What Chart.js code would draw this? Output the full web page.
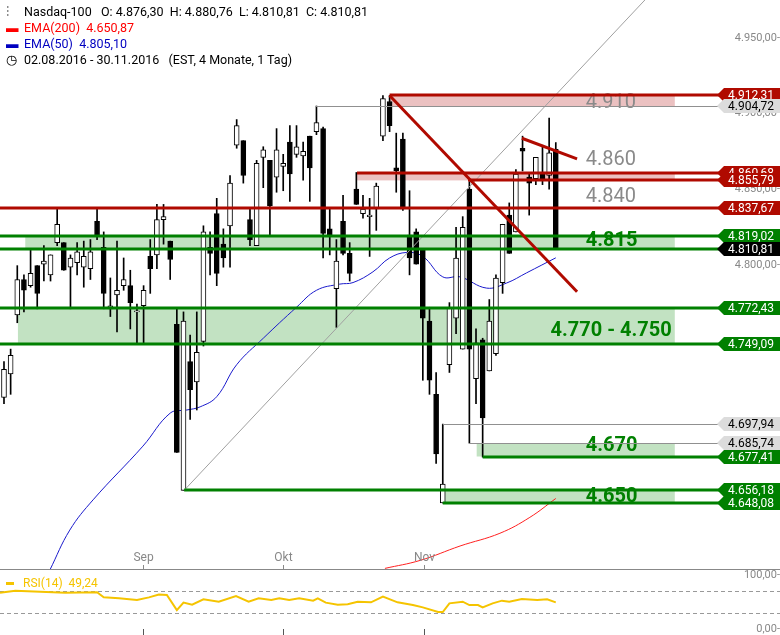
<!DOCTYPE html>
<html><head><meta charset="utf-8">
<script src="https://cdn.jsdelivr.net/npm/chart.js@4/dist/chart.umd.min.js"></script>
<style>
body{margin:0;background:#fff;width:780px;height:635px;overflow:hidden;position:relative;font-family:Roboto,"Liberation Sans",sans-serif}
#c1{position:absolute;left:0;top:0}
#c2{position:absolute;left:0;top:570px}
#hdr{position:absolute;left:6px;top:4px;font-size:12.5px;line-height:16px;pointer-events:none}
#hdr div{white-space:pre}
.ic{display:inline-block;width:12px;margin-right:6px}
</style></head><body>
<canvas id="c1" width="780" height="570"></canvas>
<canvas id="c2" width="780" height="65"></canvas>
<div id="hdr">
<div style="color:#000"><span class="ic">⫶</span>Nasdaq-100   O: 4.876,30  H: 4.880,76  L: 4.810,81  C: 4.810,81</div>
<div style="color:#f00"><span class="ic" style="font-weight:bold">▬</span>EMA(200)  4.650,87</div>
<div style="color:#0000c0"><span class="ic" style="font-weight:bold">▬</span>EMA(50)  4.805,10</div>
<div style="color:#000"><span class="ic">◷</span>02.08.2016 - 30.11.2016   (EST, 4 Monate, 1 Tag)</div>
</div>
<script>
const OPEN=[4715,4730,4768,4791,4787,4800,4801,4794,4815,4815,4799,4802,4799,4798,4829,4812,4772,4781,4787,4787,4770,4774,4806,4807,4830,4816,4762,4656,4738,4725,
4751,4812,4834,4814,4826,4879,4882,4830,4813,4871,4869,4858,4865,4881,4873,4872,4885,4888,4890,4824,4785,4829,4808,4850,4834,4832,4837,4885,
4908,4864,4883,4820,4822,4810,4764,4717,4648,4736,4766,4746,4850,4727,4752,4732,4743,4789,4833,4822,4877,4858,4857,4860,4859,4876.30];
const CLOSE=[4733,4742,4791,4784,4795,4782,4803,4807,4827,4797,4805,4809,4806,4809,4819,4782,4774,4784,4791,4776,4770,4784,4798,4830,4832,4804,4680,4764,4720,4744,
4822,4808,4795,4805,4854,4892,4859,4817,4867,4876,4839,4876,4867,4860,4878,4875,4864,4894,4821,4820,4803,4808,4795,4840,4837,4833,4852,4910,
4892,4862,4837,4805,4801,4766,4726,4679,4660,4773,4805,4825,4746,4750,4702,4764,4792,4827,4808,4860,4875,4854,4871,4857,4874,4810.81];
const HIGH=[4738,4746,4800,4794,4811,4800,4813,4807,4838,4815,4807,4815,4816,4817,4838,4822,4792,4816,4805,4797,4775,4787,4817,4840,4840,4816,4773,4770,4755,4770,
4826,4822,4844,4824,4859,4896,4882,4837,4869,4878,4869,4890,4873,4892,4892,4881,4885,4905,4891,4838,4817,4846,4815,4861,4846,4844,4854,4912,
4912,4887,4887,4849,4824,4811,4773,4731,4698,4776,4825,4832,4855,4759,4753,4778,4794,4827,4841,4863,4885,4860,4871,4879,4897,4880.76];
const LOW=[4711,4717,4763,4770,4786,4772,4790,4790,4813,4797,4772,4794,4786,4791,4817,4772,4767,4757,4784,4759,4750,4749,4782,4798,4814,4791,4680,4656,4701,4707,
4748,4794,4787,4799,4799,4877,4854,4813,4813,4851,4820,4848,4849,4842,4871,4856,4842,4886,4805,4807,4760,4807,4790,4840,4831,4806,4823,4882,
4888,4848,4836,4794,4801,4726,4717,4673,4648,4731,4756,4746,4686,4711,4677,4732,4742,4782,4808,4822,4862,4833,4853,4853,4850,4810.81];
const EMA50_X=[6.9,9.9,13.4,20.9,25,27.5,29.5,32,35,39,44,47,50.5,52.5,55.5,58,60.6,63,66,68.6,72.6,75.6,78.6,83];
const EMA50_Y=[4606,4631,4650,4684,4705,4707,4709,4715.5,4736,4753,4773,4784,4788,4789,4796,4805,4808.6,4806,4792.7,4792.7,4785.4,4788.7,4795.3,4805.1];
const EMA200_X=[57.3,62.6,68.6,74.6,79.1,83];
const EMA200_Y=[4607,4612,4621,4629,4639,4650.87];
const RSI_X=[-0.6,1.7,9.2,14,15,17.3,20,21.8,23.3,24.5,26,27,28.3,30,32.3,34.9,36.8,38.3,40.2,41.4,42.9,44.4,46.5,47.2,48.4,50.2,51.7,53.2,55.2,57,59.2,61.5,63,65.3,66,67,69,70,71.3,72,73.5,74.9,76,77.9,80.2,81.7,83];
const RSI_Y=[67,71,67,68,58.6,56.8,53.7,58.6,64,63,35,48.8,45,55,50.6,61,50.6,56.8,53.7,56.8,53.7,56.8,52.5,56.8,48.8,45,46,50.6,49.4,60,49.4,44.4,40,31.5,31.5,47.5,50.6,44.4,44.4,40,47.5,52.5,50.6,55.5,53.7,55,49.24];
const MONTH_IDX=[20.9,42,63.2];
const MONTH_LABELS=["Sep","Okt","Nov"];
const Y_TICKS=[4800,4850,4900,4950];
const RSI_TICKS=[0,100];
const LEVELS=[4912.31,4904.72,4860.68,4855.79,4837.67,4819.02,4810.81,4772.43,4749.09,4697.94,4685.74,4677.41,4656.18,4648.08];
const LEVEL_KIND=["red","gray","red","red","red","green","black","green","green","gray","gray","green","green","green"];
const LEVEL_START=[58,46.9,53.1,69.8,-0.6,-0.6,-0.6,-0.6,-0.6,66,69.9,72,27.1,66];
const ZONE_TOP=[4912.31,4860.68,4819.02,4772.43,4685.74,4656.18];
const ZONE_BOT=[4904.72,4855.79,4810.81,4749.09,4677.41,4648.08];
const ZONE_KIND=["red","red","green","green","green","green"];
const ZONE_START=[58,53.1,3.2,2.1,71.1,66];
const ZONE_END=100.9;
const TREND_A={x:[58,86.2],y:[4912,4783]};
const TREND_B={x:[77.9,86.2],y:[4883.6,4870]};
const TREND_C={x:[27.1,96.4],y:[4656,4976]};
const TEXTS=["4.910","4.860","4.840","4.815","4.770 - 4.750","4.670","4.650"];
const TEXT_VAL=[4907,4869,4845,4816,4757.8,4684,4652];
const TEXT_IDX=[87.5,87.5,87.5,87.5,82.2,87.5,87.5];
const TEXT_GREEN=[false,false,false,true,true,true,true];

const XMIN=-0.6, XMAX=107.7;
const DARKRED='#b00a00', GREEN='#008000';
function fmt(v){const s=v.toFixed(2).split('.');return s[0].replace(/\B(?=(\d{3})+(?!\d))/g,'.')+','+s[1];}
const idx=OPEN.map((_,i)=>i);
function drawTicks(ctx,y,vals){
  ctx.save();ctx.font='11px Roboto, "Liberation Sans", sans-serif';ctx.fillStyle='#888';ctx.textAlign='right';ctx.textBaseline='middle';
  vals.forEach(v=>ctx.fillText(fmt(v)+'-',780,y.getPixelForValue(v)));ctx.restore();
}

const overlay={
 id:'overlay',
 beforeDatasetsDraw(ch){
  const {ctx,scales:{x,y}}=ch;
  ctx.save();
  ZONE_TOP.forEach((t,i)=>{
   ctx.fillStyle=ZONE_KIND[i]==='red'?'rgba(205,100,100,0.4)':'rgba(120,190,120,0.45)';
   const x0=x.getPixelForValue(ZONE_START[i]),x1=x.getPixelForValue(ZONE_END);
   const y0=y.getPixelForValue(t),y1=y.getPixelForValue(ZONE_BOT[i]);
   ctx.fillRect(x0,y0,x1-x0,y1-y0);
  });
  TEXTS.forEach((s,i)=>{
   ctx.font=(TEXT_GREEN[i]?'bold ':'')+'20px Roboto, "Liberation Sans", sans-serif';
   ctx.fillStyle=TEXT_GREEN[i]?GREEN:'#8a8a8a';
   ctx.textBaseline='middle';ctx.textAlign='left';
   ctx.fillText(s,x.getPixelForValue(TEXT_IDX[i]),y.getPixelForValue(TEXT_VAL[i]));
  });
  ctx.restore();
  drawTicks(ctx,y,Y_TICKS);
 },
 afterDatasetsDraw(ch){
  const {ctx,scales:{x,y},chartArea:a}=ch;
  ctx.save();
  const line=(t,col,w)=>{ctx.strokeStyle=col;ctx.lineWidth=w;ctx.beginPath();
    ctx.moveTo(x.getPixelForValue(t.x[0]),y.getPixelForValue(t.y[0]));
    ctx.lineTo(x.getPixelForValue(t.x[1]),y.getPixelForValue(t.y[1]));ctx.stroke();};
  line(TREND_C,'#a0a0a0',1);
  LEVELS.forEach((v,i)=>{
   const k=LEVEL_KIND[i];
   ctx.strokeStyle=k==='red'?DARKRED:k==='gray'?'#909090':GREEN;
   ctx.lineWidth=k==='gray'?1:3;
   const yy=Math.round(y.getPixelForValue(v))+(k==='gray'?0.5:0);
   ctx.beginPath();ctx.moveTo(x.getPixelForValue(LEVEL_START[i]),yy);ctx.lineTo(a.right,yy);ctx.stroke();
  });
  line(TREND_A,DARKRED,3);
  line(TREND_B,DARKRED,3);
  ctx.strokeStyle='#888';ctx.lineWidth=1;
  ctx.beginPath();ctx.moveTo(0,569.5);ctx.lineTo(780,569.5);ctx.stroke();
  ctx.font='12px Roboto, "Liberation Sans", sans-serif';ctx.fillStyle='#888';ctx.textAlign='center';ctx.textBaseline='middle';
  MONTH_IDX.forEach((m,i)=>{const px=Math.round(x.getPixelForValue(m))+0.5;
    ctx.fillText(MONTH_LABELS[i],px,558);
    ctx.beginPath();ctx.moveTo(px,565);ctx.lineTo(px,570);ctx.stroke();});
  ctx.restore();
 },
 afterDraw(ch){
  const {ctx,scales:{y}}=ch;
  ctx.save();
  ctx.font='12px Roboto, "Liberation Sans", sans-serif';ctx.textBaseline='middle';ctx.textAlign='left';
  LEVELS.forEach((v,i)=>{
   const k=LEVEL_KIND[i];
   const yy=Math.round(y.getPixelForValue(v));
   ctx.fillStyle=k==='red'?DARKRED:k==='gray'?'#dcdcdc':k==='black'?'#000':GREEN;
   ctx.beginPath();ctx.moveTo(717,yy);ctx.lineTo(724,yy-7);ctx.lineTo(780,yy-7);ctx.lineTo(780,yy+7);ctx.lineTo(724,yy+7);ctx.closePath();ctx.fill();
   ctx.fillStyle=k==='gray'?'#000':'#fff';
   ctx.fillText(fmt(v),728,yy+0.5);
  });
  ctx.restore();
 }
};

new Chart(document.getElementById('c1'),{
 type:'bar',
 data:{datasets:[
  {type:'line',data:EMA50_X.map((v,i)=>({x:v,y:EMA50_Y[i]})),borderColor:'#1a1acc',borderWidth:1,pointRadius:0,tension:0.4,order:3},
  {type:'line',data:EMA200_X.map((v,i)=>({x:v,y:EMA200_Y[i]})),borderColor:'#ff2020',borderWidth:1,pointRadius:0,tension:0.4,order:3},
  {data:idx.map(i=>({x:i,y:[LOW[i],HIGH[i]]})),backgroundColor:'#000',barThickness:1,grouped:false,order:2},
  {data:idx.map(i=>({x:i,y:[OPEN[i],CLOSE[i]]})),backgroundColor:idx.map(i=>CLOSE[i]>=OPEN[i]?'#fff':'#000'),borderColor:'#000',borderWidth:1,borderSkipped:false,barThickness:5,minBarLength:1,grouped:false,order:1}
 ]},
 options:{responsive:false,animation:false,devicePixelRatio:1,
  layout:{padding:0},
  plugins:{legend:{display:false},tooltip:{enabled:false}},
  scales:{
   x:{type:'linear',min:XMIN,max:XMAX,offset:false,display:false},
   y:{type:'logarithmic',position:'right',min:4606,max:4976,
      afterBuildTicks(s){s.ticks=Y_TICKS.map(v=>({value:v}));},
      afterFit(s){s.width=60;},
      grid:{display:false},border:{display:false},
      ticks:{display:false}}
  }},
 plugins:[overlay]
});

const rsiDeco={id:'rsiDeco',
 beforeDatasetsDraw(ch){const {ctx,scales:{x,y}}=ch;ctx.save();
  ctx.strokeStyle='#999';ctx.setLineDash([4,3]);ctx.lineWidth=1;
  [70,30].forEach(v=>{const yy=Math.round(y.getPixelForValue(v))+0.5;ctx.beginPath();ctx.moveTo(0,yy);ctx.lineTo(780,yy);ctx.stroke();});
  ctx.setLineDash([]);ctx.strokeStyle='#555';
  MONTH_IDX.forEach(m=>{const px=Math.round(x.getPixelForValue(m))+0.5;ctx.beginPath();ctx.moveTo(px,59);ctx.lineTo(px,65);ctx.stroke();});
  ctx.fillStyle='#f5c400';ctx.fillRect(6,12,8,3);
  ctx.font='12px Roboto, "Liberation Sans", sans-serif';ctx.textBaseline='middle';ctx.fillText('RSI(14)  49,24',23,14);
  ctx.restore();
  drawTicks(ctx,y,RSI_TICKS);}};
new Chart(document.getElementById('c2'),{
 type:'line',
 data:{datasets:[{data:RSI_X.map((v,i)=>({x:v,y:RSI_Y[i]})),borderColor:'#f5c400',borderWidth:2,pointRadius:0,tension:0}]},
 options:{responsive:false,animation:false,devicePixelRatio:1,
  layout:{padding:{top:5,bottom:6}},
  plugins:{legend:{display:false},tooltip:{enabled:false}},
  scales:{x:{type:'linear',min:XMIN,max:XMAX,display:false},
   y:{position:'right',min:0,max:100,afterFit(s){s.width=60;},
    grid:{display:false},border:{display:false},ticks:{display:false}}}},
 plugins:[rsiDeco]
});
</script></body></html>
